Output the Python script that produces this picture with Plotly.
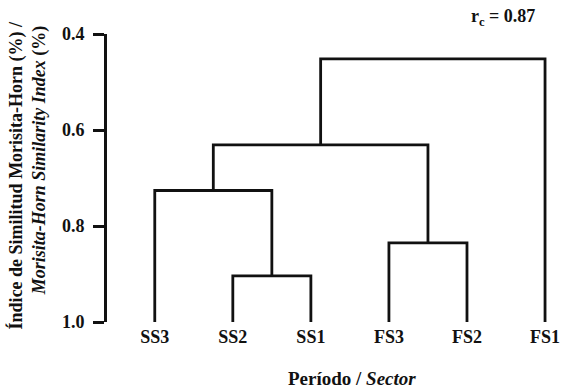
import plotly.graph_objects as go

# Data
leaves = ["SS3", "SS2", "SS1", "FS3", "FS2", "FS1"]
# merges: (cluster_a, cluster_b, similarity) ; new cluster ids start at len(leaves)
merge_a = [1, 3, 0, 8, 9]
merge_b = [2, 4, 6, 7, 5]
merge_h = [0.904, 0.835, 0.726, 0.631, 0.452]
leaf_h = 1.0
y_ticks = [0.4, 0.6, 0.8, 1.0]
y_ticklabels = ["0.4", "0.6", "0.8", "1.0"]
rc_value = "0.87"

FONT = "Liberation Serif"
COL = "#111111"

# compute positions
pos_x = {i: float(i) for i in range(len(leaves))}
pos_y = {i: leaf_h for i in range(len(leaves))}
fig = go.Figure()
for k, (a, b, h) in enumerate(zip(merge_a, merge_b, merge_h)):
    xa, xb = pos_x[a], pos_x[b]
    ya, yb = pos_y[a], pos_y[b]
    fig.add_trace(go.Scatter(x=[xa, xa, xb, xb], y=[ya, h, h, yb], mode="lines",
                             line=dict(color=COL, width=2.8), hoverinfo="skip",
                             showlegend=False))
    nid = len(leaves) + k
    pos_x[nid] = (xa + xb) / 2
    pos_y[nid] = h

fig.update_layout(
    width=567, height=390,
    margin=dict(l=107, r=7, t=34, b=68),
    paper_bgcolor="white", plot_bgcolor="white",
    font=dict(family=FONT, color=COL),
    showlegend=False,
    xaxis=dict(range=[-0.612, 5.166], tickvals=list(range(len(leaves))), ticktext=leaves,
               showline=False, showgrid=False, zeroline=False, ticks="",
               tickfont=dict(family=FONT, size=18, color=COL, weight="bold"),
               ticklabelstandoff=2),
    yaxis=dict(range=[1.0, 0.4], tickvals=y_ticks, ticktext=y_ticklabels,
               showline=True, linecolor=COL, linewidth=3, mirror=False,
               showgrid=False, zeroline=False, ticks="outside", ticklen=11,
               tickwidth=3, tickcolor=COL,
               tickfont=dict(family=FONT, size=18, color=COL, weight="bold"),
               ticklabelstandoff=5),
    annotations=[
        dict(text="<b>Índice de Similitud Morisita-Horn (%) /</b>", textangle=-90,
             xref="paper", yref="paper", x=(16 - 107) / 453, y=(322 - 175) / 288,
             xanchor="center", yanchor="middle", showarrow=False,
             font=dict(family=FONT, size=18, color=COL)),
        dict(text="<b><i>Morisita-Horn Similarity Index</i> (%)</b>", textangle=-90,
             xref="paper", yref="paper", x=(39 - 107) / 453, y=(322 - 160) / 288,
             xanchor="center", yanchor="middle", showarrow=False,
             font=dict(family=FONT, size=18, color=COL)),
        dict(text="<b>Período / <i>Sector</i></b>",
             xref="paper", yref="paper", x=(353 - 107) / 453, y=(322 - 378) / 288,
             xanchor="center", yanchor="middle", showarrow=False,
             font=dict(family=FONT, size=19, color=COL)),
        dict(text="<b>r<sub>c</sub> = " + rc_value + "</b>",
             xref="paper", yref="paper", x=(505 - 107) / 453, y=(322 - 17) / 288,
             xanchor="center", yanchor="middle", showarrow=False,
             font=dict(family=FONT, size=18, color=COL)),
    ],
)
fig.write_html("out.html", config={"displayModeBar": False},
               post_script="document.body.style.margin='0px';")
